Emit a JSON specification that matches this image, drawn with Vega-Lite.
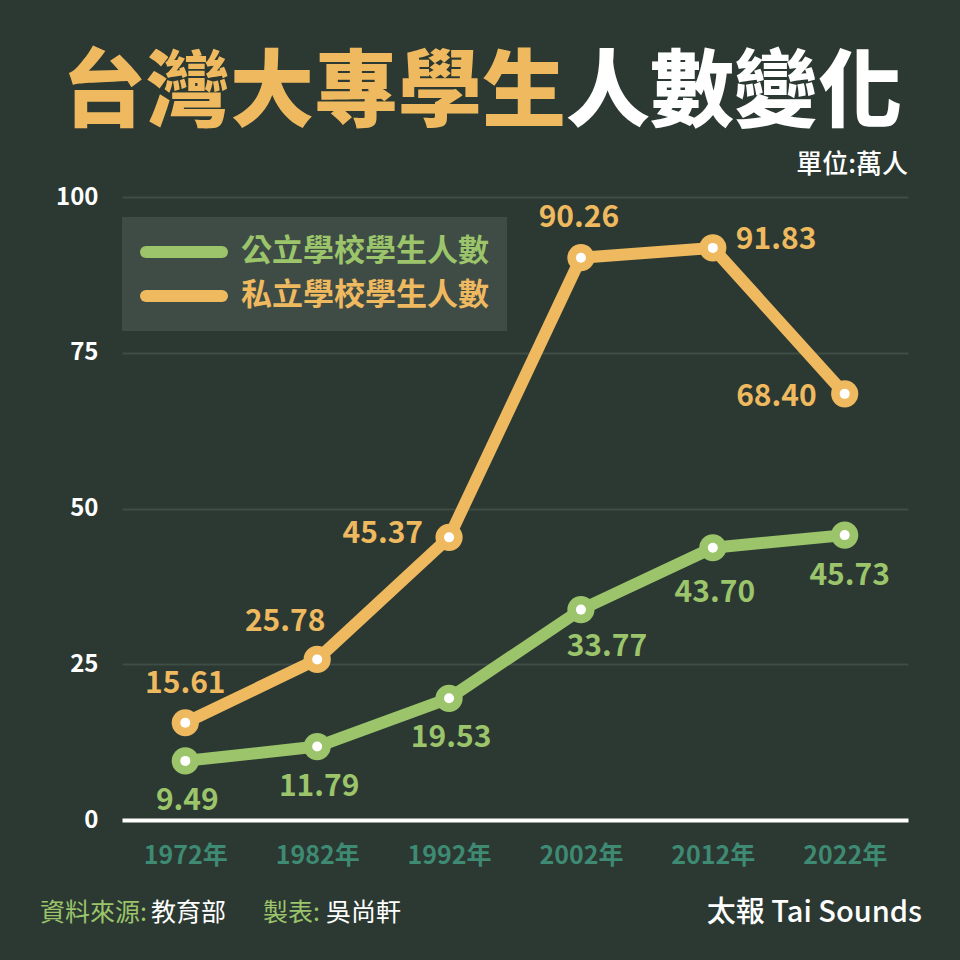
{
  "$schema": "https://vega.github.io/schema/vega-lite/v6.json",
  "width": 786,
  "height": 623,
  "autosize": {"type": "none"},
  "padding": {"left": 122, "top": 197, "right": 52, "bottom": 140},
  "background": "#2b3932",
  "config": {
    "view": {"stroke": null},
    "font": "Noto Sans CJK TC"
  },
  "data": {
    "values": [
      {"year": "1972年", "type": "公立學校學生人數", "value": 9.49},
      {"year": "1982年", "type": "公立學校學生人數", "value": 11.79},
      {"year": "1992年", "type": "公立學校學生人數", "value": 19.53},
      {"year": "2002年", "type": "公立學校學生人數", "value": 33.77},
      {"year": "2012年", "type": "公立學校學生人數", "value": 43.70},
      {"year": "2022年", "type": "公立學校學生人數", "value": 45.73},
      {"year": "1972年", "type": "私立學校學生人數", "value": 15.61},
      {"year": "1982年", "type": "私立學校學生人數", "value": 25.78},
      {"year": "1992年", "type": "私立學校學生人數", "value": 45.37},
      {"year": "2002年", "type": "私立學校學生人數", "value": 90.26},
      {"year": "2012年", "type": "私立學校學生人數", "value": 91.83},
      {"year": "2022年", "type": "私立學校學生人數", "value": 68.40}
    ]
  },
  "layer": [
    {
      "encoding": {
        "x": {
          "field": "year", "type": "ordinal", "sort": null,
          "scale": {"type": "point", "padding": 0.48},
          "axis": {
            "title": null, "labelAngle": 0, "ticks": false,
            "domainColor": "#ffffff", "domainWidth": 4,
            "labelColor": "#3e8a73", "labelFontSize": 25, "labelFontWeight": "bold",
            "labelFont": "Noto Sans CJK TC", "labelPadding": 23
          }
        },
        "y": {
          "field": "value", "type": "quantitative",
          "scale": {"domain": [0, 100], "nice": false},
          "axis": {
            "title": null, "values": [0, 25, 50, 75, 100], "domain": false, "ticks": false,
            "gridColor": "#3e4d45", "gridWidth": 2,
            "labelColor": "#ffffff", "labelFontSize": 24, "labelFontWeight": "bold",
            "labelFont": "Noto Sans CJK TC", "labelPadding": 24
          }
        }
      },
      "layer": [
        {
          "mark": {"type": "line", "strokeWidth": 12, "strokeCap": "round", "strokeJoin": "round"},
          "encoding": {
            "color": {
              "field": "type", "type": "nominal",
              "scale": {"domain": ["公立學校學生人數", "私立學校學生人數"], "range": ["#9bc46b", "#efb95f"]},
              "legend": {
                "title": null, "orient": "none", "legendX": 0, "legendY": 20,
                "fillColor": "#3e4c45", "padding": 18,
                "symbolType": "stroke", "symbolSize": 5776, "symbolStrokeWidth": 12, "symbolOffset": 0,
                "clipHeight": 34, "rowPadding": 10, "labelOffset": 13,
                "labelFontSize": 31, "labelFont": "Noto Sans CJK TC", "labelFontWeight": "bold", "labelLimit": 400,
                "encode": {
                  "labels": {"update": {"fill": {"signal": "datum.value === '公立學校學生人數' ? '#9bc46b' : '#efb95f'"}}},
                  "symbols": {"update": {"strokeCap": {"value": "round"}}}
                }
              }
            }
          }
        },
        {
          "mark": {"type": "point", "filled": true, "size": 740, "opacity": 1},
          "encoding": {"color": {"field": "type", "type": "nominal", "legend": null}}
        },
        {
          "mark": {"type": "point", "filled": true, "size": 100, "color": "#ffffff", "opacity": 1}
        },
        {
          "transform": [{"filter": "datum.type === '私立學校學生人數' && datum.year === '1972年'"}],
          "mark": {"type": "text", "fontSize": 30, "fontWeight": "bold", "color": "#efb95f", "dx": 0, "dy": -39, "baseline": "middle"},
          "encoding": {"text": {"field": "value", "type": "quantitative", "format": ".2f"}}
        },
        {
          "transform": [{"filter": "datum.type === '私立學校學生人數' && datum.year === '2002年'"}],
          "mark": {"type": "text", "fontSize": 30, "fontWeight": "bold", "color": "#efb95f", "dx": -2, "dy": -40, "baseline": "middle"},
          "encoding": {"text": {"field": "value", "type": "quantitative", "format": ".2f"}}
        },
        {
          "transform": [{"filter": "datum.type === '私立學校學生人數' && datum.year === '1982年'"}],
          "mark": {"type": "text", "fontSize": 30, "fontWeight": "bold", "color": "#efb95f", "dx": -32, "dy": -37, "baseline": "middle"},
          "encoding": {"text": {"field": "value", "type": "quantitative", "format": ".2f"}}
        },
        {
          "transform": [{"filter": "datum.type === '私立學校學生人數' && datum.year === '1992年'"}],
          "mark": {"type": "text", "fontSize": 30, "fontWeight": "bold", "color": "#efb95f", "align": "right", "dx": -26, "dy": -3, "baseline": "middle"},
          "encoding": {"text": {"field": "value", "type": "quantitative", "format": ".2f"}}
        },
        {
          "transform": [{"filter": "datum.type === '私立學校學生人數' && datum.year === '2022年'"}],
          "mark": {"type": "text", "fontSize": 30, "fontWeight": "bold", "color": "#efb95f", "align": "right", "dx": -28, "dy": 3, "baseline": "middle"},
          "encoding": {"text": {"field": "value", "type": "quantitative", "format": ".2f"}}
        },
        {
          "transform": [{"filter": "datum.type === '私立學校學生人數' && datum.year === '2012年'"}],
          "mark": {"type": "text", "fontSize": 30, "fontWeight": "bold", "color": "#efb95f", "align": "left", "dx": 23, "dy": -8, "baseline": "middle"},
          "encoding": {"text": {"field": "value", "type": "quantitative", "format": ".2f"}}
        },
        {
          "transform": [{"filter": "datum.type === '公立學校學生人數' && (datum.year === '1972年' || datum.year === '1982年' || datum.year === '1992年')"}],
          "mark": {"type": "text", "fontSize": 30, "fontWeight": "bold", "color": "#9bc46b", "dx": 2, "dy": 40, "baseline": "middle"},
          "encoding": {"text": {"field": "value", "type": "quantitative", "format": ".2f"}}
        },
        {
          "transform": [{"filter": "datum.type === '公立學校學生人數' && datum.year === '2022年'"}],
          "mark": {"type": "text", "fontSize": 30, "fontWeight": "bold", "color": "#9bc46b", "dx": 5, "dy": 41, "baseline": "middle"},
          "encoding": {"text": {"field": "value", "type": "quantitative", "format": ".2f"}}
        },
        {
          "transform": [{"filter": "datum.type === '公立學校學生人數' && datum.year === '2012年'"}],
          "mark": {"type": "text", "fontSize": 30, "fontWeight": "bold", "color": "#9bc46b", "dx": 2, "dy": 45, "baseline": "middle"},
          "encoding": {"text": {"field": "value", "type": "quantitative", "format": ".2f"}}
        },
        {
          "transform": [{"filter": "datum.type === '公立學校學生人數' && datum.year === '2002年'"}],
          "mark": {"type": "text", "fontSize": 30, "fontWeight": "bold", "color": "#9bc46b", "dx": 26, "dy": 37, "baseline": "middle"},
          "encoding": {"text": {"field": "value", "type": "quantitative", "format": ".2f"}}
        }
      ]
    },
    {
      "data": {"values": [{}]},
      "mark": {"type": "text", "text": "台灣大專學生", "align": "right", "baseline": "middle", "fontSize": 84, "fontWeight": 900, "color": "#efb95f"},
      "encoding": {"x": {"value": 444}, "y": {"value": -102}}
    },
    {
      "data": {"values": [{}]},
      "mark": {"type": "text", "text": "人數變化", "align": "left", "baseline": "middle", "fontSize": 84, "fontWeight": 900, "color": "#ffffff"},
      "encoding": {"x": {"value": 444}, "y": {"value": -102}}
    },
    {
      "data": {"values": [{}]},
      "mark": {"type": "text", "text": "單位:萬人", "align": "right", "baseline": "middle", "fontSize": 26, "fontWeight": 500, "color": "#ffffff"},
      "encoding": {"x": {"value": 786}, "y": {"value": -32}}
    },
    {
      "data": {"values": [{}]},
      "mark": {"type": "text", "text": "資料來源:", "align": "left", "baseline": "middle", "fontSize": 25, "fontWeight": 400, "color": "#9bc46b"},
      "encoding": {"x": {"value": -82}, "y": {"value": 716}}
    },
    {
      "data": {"values": [{}]},
      "mark": {"type": "text", "text": "教育部", "align": "left", "baseline": "middle", "fontSize": 25, "fontWeight": 400, "color": "#ffffff"},
      "encoding": {"x": {"value": 29}, "y": {"value": 716}}
    },
    {
      "data": {"values": [{}]},
      "mark": {"type": "text", "text": "製表:", "align": "left", "baseline": "middle", "fontSize": 25, "fontWeight": 400, "color": "#9bc46b"},
      "encoding": {"x": {"value": 141}, "y": {"value": 716}}
    },
    {
      "data": {"values": [{}]},
      "mark": {"type": "text", "text": "吳尚軒", "align": "left", "baseline": "middle", "fontSize": 25, "fontWeight": 400, "color": "#ffffff"},
      "encoding": {"x": {"value": 204}, "y": {"value": 716}}
    },
    {
      "data": {"values": [{}]},
      "mark": {"type": "text", "text": "太報 Tai Sounds", "align": "right", "baseline": "middle", "fontSize": 29, "fontWeight": 500, "color": "#ffffff"},
      "encoding": {"x": {"value": 800}, "y": {"value": 716}}
    }
  ]
}
